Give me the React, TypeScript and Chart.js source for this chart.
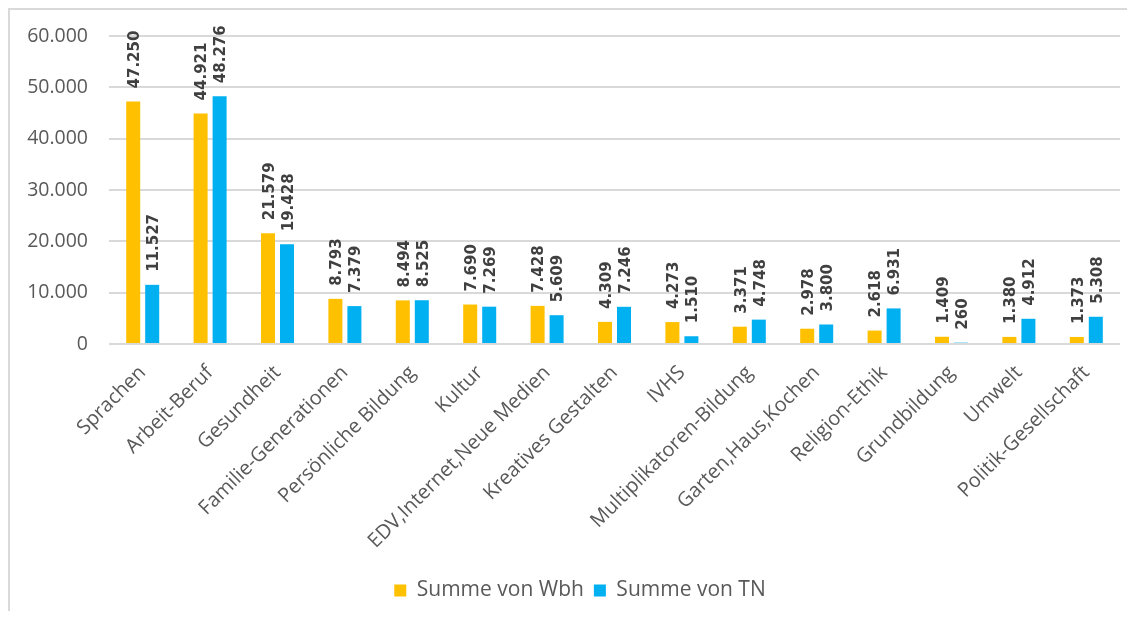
import React, { useEffect, useRef } from "react";
import { Chart, registerables } from "chart.js";

Chart.register(...registerables);

const categories = [
  "Sprachen",
  "Arbeit-Beruf",
  "Gesundheit",
  "Familie-Generationen",
  "Persönliche Bildung",
  "Kultur",
  "EDV,Internet,Neue Medien",
  "Kreatives Gestalten",
  "IVHS",
  "Multiplikatoren-Bildung",
  "Garten,Haus,Kochen",
  "Religion-Ethik",
  "Grundbildung",
  "Umwelt",
  "Politik-Gesellschaft",
];

const wbhValues = [47250, 44921, 21579, 8793, 8494, 7690, 7428, 4309, 4273, 3371, 2978, 2618, 1409, 1380, 1373];
const tnValues = [11527, 48276, 19428, 7379, 8525, 7269, 5609, 7246, 1510, 4748, 3800, 6931, 260, 4912, 5308];

const seriesNames = ["Summe von Wbh", "Summe von TN"];
const seriesColors = ["#FFC000", "#00B0F0"];

const yMin = 0;
const yMax = 60000;
const yStep = 10000;

function formatDe(v: number): string {
  const s = Math.round(v).toString();
  return s.replace(/\B(?=(\d{3})+(?!\d))/g, ".");
}

const dataLabelPlugin = {
  id: "dataLabelPlugin",
  afterDatasetsDraw(chart: any) {
    const ctx = chart.ctx;
    ctx.save();
    ctx.fillStyle = "#404040";
    ctx.font = "bold 15px 'DejaVu Sans', sans-serif";
    ctx.textAlign = "left";
    ctx.textBaseline = "middle";
    chart.data.datasets.forEach((ds: any, di: number) => {
      const meta = chart.getDatasetMeta(di);
      meta.data.forEach((bar: any, i: number) => {
        const v = ds.data[i];
        ctx.save();
        ctx.translate(bar.x + 2, bar.y - 13);
        ctx.rotate(-Math.PI / 2);
        ctx.fillText(formatDe(v), 0, 0);
        ctx.restore();
      });
    });
    ctx.restore();
  },
};

const legendShiftPlugin = {
  id: "legendShiftPlugin",
  afterLayout(chart: any) {
    const lg = chart.legend;
    if (lg) {
      lg.left += 15;
      lg.right += 15;
    }
  },
};

export default function App() {
  const ref = useRef<HTMLCanvasElement | null>(null);

  useEffect(() => {
    if (!ref.current) return;
    Chart.defaults.font.family = "'Open Sans', sans-serif";
    const chart = new Chart(ref.current, {
      type: "bar",
      data: {
        labels: categories,
        datasets: [
          {
            label: seriesNames[0],
            data: wbhValues,
            backgroundColor: seriesColors[0],
            categoryPercentage: 0.564,
            barPercentage: 0.737,
          },
          {
            label: seriesNames[1],
            data: tnValues,
            backgroundColor: seriesColors[1],
            categoryPercentage: 0.564,
            barPercentage: 0.737,
          },
        ],
      },
      options: {
        animation: false,
        responsive: false,
        maintainAspectRatio: false,
        layout: { padding: { left: 0, right: 7, top: 26, bottom: 0 } },
        plugins: {
          legend: {
            position: "bottom",
            labels: {
              boxWidth: 12,
              boxHeight: 12,
              color: "#595959",
              font: { size: 21 },
              padding: 10,
            },
          },
          tooltip: { enabled: false },
        },
        scales: {
          x: {
            grid: { display: false, drawTicks: false },
            border: { display: false },
            ticks: {
              color: "#595959",
              font: { size: 20 },
              maxRotation: 45,
              minRotation: 45,
              autoSkip: false,
              padding: 17,
            },
            afterFit(scale: any) {
              scale.height = 226;
            },
          },
          y: {
            min: yMin,
            max: yMax,
            grid: {
              color: "#d9d9d9",
              lineWidth: 2,
              drawTicks: true,
              tickLength: 17,
              tickColor: "rgba(0,0,0,0)",
            },
            border: { display: false },
            ticks: {
              stepSize: yStep,
              color: "#595959",
              font: { size: 19.5 },
              padding: 4,
              callback: (v: any) => formatDe(Number(v)),
            },
            afterFit(scale: any) {
              scale.width = 99;
            },
          },
        },
      },
      plugins: [dataLabelPlugin, legendShiftPlugin],
    });
    return () => chart.destroy();
  }, []);

  return (
    <div
      style={{
        width: 1117,
        height: 601,
        borderTop: "2px solid #d9d9d9",
        borderLeft: "2px solid #d9d9d9",
        background: "#fff",
      }}
    >
      <canvas ref={ref} width={1117} height={601} style={{ display: "block" }} />
    </div>
  );
}
